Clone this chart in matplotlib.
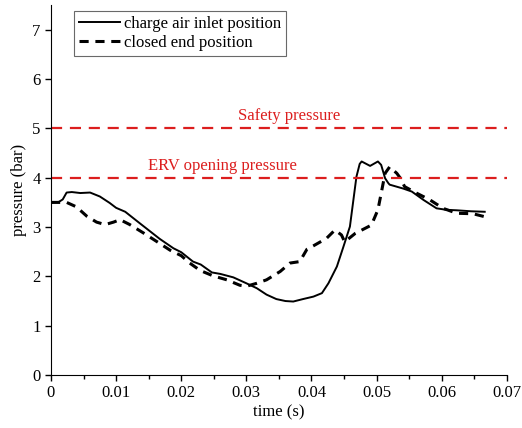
import matplotlib
matplotlib.use('Agg')
import matplotlib.pyplot as plt
from matplotlib.ticker import MultipleLocator

plt.rcParams['font.family'] = ['Liberation Serif', 'DejaVu Serif']

# charge air inlet position
t_inlet = [0, 0.0012, 0.0018, 0.0024, 0.0032, 0.0045, 0.006, 0.0075, 0.009, 0.010,
           0.0114, 0.0137, 0.0167, 0.0188, 0.020, 0.0218, 0.023, 0.0247, 0.026, 0.028,
           0.030, 0.0316, 0.0331, 0.0346, 0.036, 0.0372, 0.0387, 0.0403, 0.0416, 0.0426,
           0.0439, 0.0449, 0.0459, 0.0469, 0.0474, 0.0477, 0.049, 0.0502, 0.0507, 0.0513,
           0.0518, 0.052, 0.0541, 0.0554, 0.0572, 0.0592, 0.0607, 0.0623, 0.0645, 0.0666]
p_inlet = [3.50, 3.51, 3.56, 3.70, 3.71, 3.69, 3.70, 3.62, 3.49, 3.39,
           3.31, 3.07, 2.76, 2.57, 2.49, 2.30, 2.24, 2.08, 2.05, 1.98,
           1.86, 1.76, 1.63, 1.54, 1.50, 1.49, 1.54, 1.59, 1.66, 1.86,
           2.20, 2.60, 3.01, 4.02, 4.28, 4.33, 4.24, 4.33, 4.26, 3.99,
           3.89, 3.86, 3.78, 3.72, 3.55, 3.38, 3.35, 3.34, 3.32, 3.31]

# closed end position
t_closed = [0, 0.0024, 0.0039, 0.0055, 0.007, 0.0083, 0.0096, 0.0106, 0.0121, 0.0142,
            0.0162, 0.0183, 0.020, 0.0213, 0.0229, 0.0249, 0.027, 0.029, 0.030, 0.0316,
            0.0331, 0.0352, 0.0367, 0.0382, 0.0393, 0.0403, 0.0423, 0.0436, 0.0446, 0.0451,
            0.0467, 0.0492, 0.0502, 0.0508, 0.0513, 0.052, 0.0531, 0.0536, 0.0543, 0.0561,
            0.0582, 0.0602, 0.0623, 0.0648, 0.0666]
p_closed = [3.50, 3.50, 3.41, 3.22, 3.10, 3.05, 3.10, 3.15, 3.05, 2.88,
            2.71, 2.53, 2.42, 2.27, 2.12, 2.01, 1.93, 1.82, 1.80, 1.86,
            1.93, 2.10, 2.27, 2.30, 2.55, 2.62, 2.77, 2.94, 2.84, 2.70,
            2.87, 3.04, 3.35, 3.75, 4.09, 4.22, 4.09, 4.00, 3.82, 3.69,
            3.55, 3.38, 3.28, 3.27, 3.21]

safety_p = 5
erv_p = 4

fig = plt.figure(figsize=(5.22, 4.28), dpi=100)
ax = fig.add_axes([0.0977, 0.1238, 0.8733, 0.8642])

ax.plot(t_inlet, p_inlet, c='k', ls='-', lw=1.4, label='charge air inlet position')
ax.plot(t_closed, p_closed, c='k', ls=(0, (3, 2.2)), lw=2.2, label='closed end position')

red = '#dc1e1e'
ax.axhline(safety_p, c=red, ls=(0, (5, 3.5)), lw=1.6)
ax.axhline(erv_p, c=red, ls=(0, (5, 3.5)), lw=1.6)
ax.text(0.0365, safety_p + 0.08, 'Safety pressure', color=red, fontsize=12, ha='center', va='bottom')
ax.text(0.0263, erv_p + 0.08, 'ERV opening pressure', color=red, fontsize=12, ha='center', va='bottom')

ax.set_xlim(0, 0.07)
ax.set_ylim(0, 7.5)
ax.xaxis.set_minor_locator(MultipleLocator(0.005))
ax.yaxis.set_major_locator(MultipleLocator(1))
ax.set_xticks([0, 0.01, 0.02, 0.03, 0.04, 0.05, 0.06, 0.07])
ax.set_xticklabels(['0', '0.01', '0.02', '0.03', '0.04', '0.05', '0.06', '0.07'])
ax.tick_params(labelsize=12, direction='out', length=4, width=1)
ax.tick_params(which='minor', direction='out', length=3, width=1)
ax.spines['top'].set_visible(False)
ax.spines['right'].set_visible(False)
ax.set_xlabel('time (s)', fontsize=12, labelpad=2)
ax.set_ylabel('pressure (bar)', fontsize=12, labelpad=4)

leg = ax.legend(loc='upper left', bbox_to_anchor=(0.05, 0.985), fontsize=12, frameon=True,
                fancybox=False, edgecolor='#444444', handlelength=2.5, handletextpad=0.2,
                borderpad=0.3, labelspacing=0.2, borderaxespad=0)
leg.get_frame().set_linewidth(0.8)

fig.savefig('out.png', dpi=100)
